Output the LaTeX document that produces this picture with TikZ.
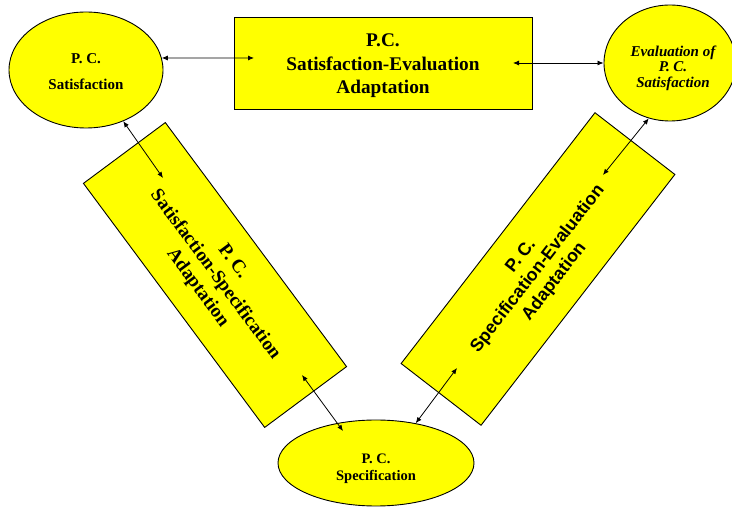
\documentclass[tikz,border=0pt]{standalone}
\usepackage{fontspec}
\setmainfont{Liberation Serif}
\newfontfamily\sansbold{Liberation Sans}
\usetikzlibrary{shapes.geometric,arrows.meta,calc}
\definecolor{boxyellow}{RGB}{255,255,0}
\begin{document}
\begin{tikzpicture}[x=1pt,y=-1pt,
  oval/.style={ellipse,draw=black,line width=0.9pt,fill=boxyellow,inner sep=0pt},
  panel/.style={rectangle,draw=black,line width=0.9pt,fill=boxyellow,inner sep=0pt,align=center},
  caption/.style={inner sep=0pt,align=center},
  link/.style={{Latex[length=6pt,width=5pt]}-{Latex[length=6pt,width=5pt]},line width=0.8pt}]
\useasboundingbox (0,0) rectangle (732,510);

% the three states
\node[oval,minimum width=154pt,minimum height=116pt] (sat) at (86,70) {};
\node[oval,minimum width=132pt,minimum height=116pt] (eval) at (670,63) {};
\node[oval,minimum width=196pt,minimum height=86pt] (spec) at (376,463) {};
\node[caption,font=\bfseries\fontsize{15}{26}\selectfont,yshift=-2pt]
  (satText) at (sat) {P. C.\\Satisfaction};
\node[caption,font=\bfseries\itshape\fontsize{15}{15.5}\selectfont,xshift=3pt,yshift=-5pt]
  (evalText) at (eval) {Evaluation of\\P. C.\\Satisfaction};
\node[caption,font=\bfseries\fontsize{14.5}{17}\selectfont,yshift=-6pt]
  (specText) at (spec) {P. C.\\Specification};

% the three adaptations
\node[panel,minimum width=298pt,minimum height=92pt] (se) at (383,63) {};
\node[caption,font=\bfseries\fontsize{19.3}{23.5}\selectfont,yshift=-3pt]
  (seText) at (se) {P.C.\\Satisfaction-Evaluation\\Adaptation};
\node[panel,rotate=-53.4,minimum width=304pt,minimum height=102pt,
      font=\bfseries\fontsize{19}{22}\selectfont] (ss) at (215,275) {P. C.\\Satisfaction-Specification\\Adaptation};
\node[panel,rotate=52.3,minimum width=317pt,minimum height=101pt,
      font=\sansbold\bfseries\fontsize{17.8}{21}\selectfont] (sp) at (538,269) {P. C.\\Specification-Evaluation\\Adaptation};

% arrow ends lying inside the boxes
\coordinate (seL) at (254,58);
\coordinate (seR) at (513,63);
\coordinate (ssT) at (163,178);
\coordinate (ssB) at (302,375);
\coordinate (specL) at (343,431);
\coordinate (spB) at (457,368);
\coordinate (spT) at (603,175);

\draw[link] (sat.9) -- (seL);
\draw[link] (seR) -- (eval.west);
\draw[link] (sat.-54) -- (ssT);
\draw[link] (ssB) -- (specL);
\draw[link] (spec.45) -- (spB);
\draw[link] (spT) -- (eval.-111);
\end{tikzpicture}
\end{document}
